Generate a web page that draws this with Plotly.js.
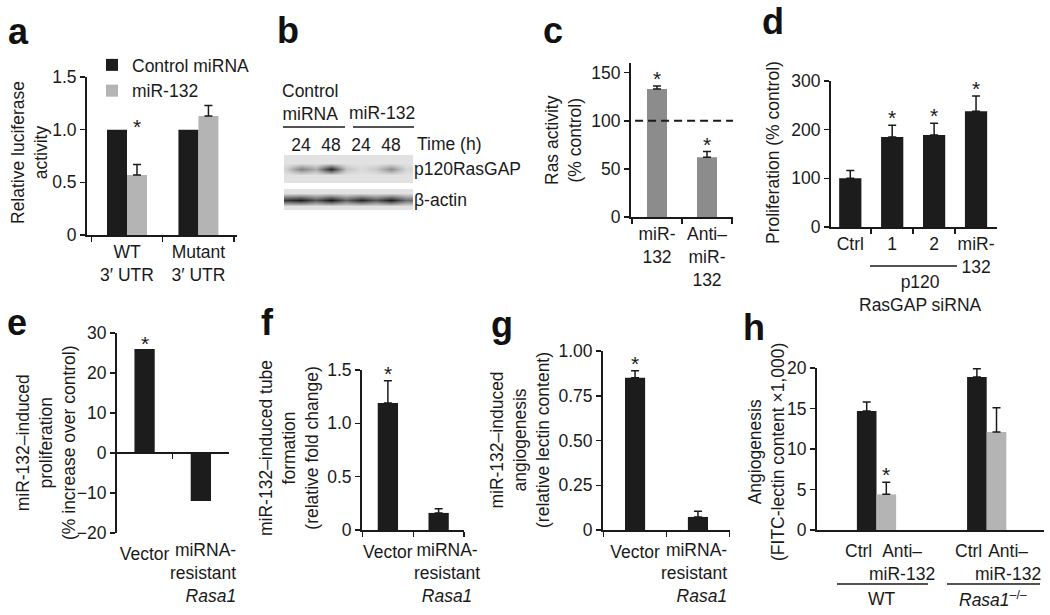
<!DOCTYPE html>
<html>
<head>
<meta charset="utf-8">
<script src="https://cdn.plot.ly/plotly-3.0.1.min.js"></script>
<style>
  html, body { margin: 0; padding: 0; background: #fff; }
  #myDiv { width: 1050px; height: 615px; }
</style>
</head>
<body>
<div id="myDiv"></div>
<script>
// ---- values ----

// a: luciferase reporter
var aGroups = ['WT<br>3′ UTR', 'Mutant<br>3′ UTR'];
var aControl = [1.0, 1.0];
var aMir132 = [0.57, 1.13];
var aMir132Err = [0.10, 0.10];
var aSig = [true, false];

// b: western blot, band darkness sampled every half lane (0 = background)
var bLanes = ['24', '48', '24', '48'];
var bP120Profile = [0.08, 0.45, 0.25, 0.88, 0.15, 0.04, 0.12, 0.4, 0.06];
var bActinProfile = [0.8, 0.92, 0.65, 0.95, 0.6, 0.88, 0.65, 0.93, 0.55];

// c: Ras activity
var cCats = ['miR-<br>132', 'Anti–<br>miR-<br>132'];
var cRas = [133, 62];
var cRasErr = [3, 6];
var cSig = [true, true];
var cBaseline = 100;

// d: proliferation
var dCats = ['Ctrl', '1', '2', 'miR-<br>132'];
var dProlif = [100, 185, 189, 238];
var dProlifErr = [16, 24, 24, 31];
var dSig = [false, true, true, true];

// e, f, g: rescue with miRNA-resistant Rasa1
var rescueCats = ['Vector', 'miRNA-<br>resistant<br><i>Rasa1</i>'];
var eProlif = [26, -12];
var eSig = [true, false];
var fTube = [1.19, 0.16];
var fTubeErr = [0.21, 0.04];
var fSig = [true, false];
var gAngio = [0.85, 0.073];
var gAngioErr = [0.04, 0.032];
var gSig = [true, false];

// h: in vivo angiogenesis
var hGroups = ['WT', 'Rasa1-/-'];
var hCtrl = [14.7, 18.9];
var hCtrlErr = [1.1, 1.0];
var hAnti = [4.4, 12.1];
var hAntiErr = [1.5, 3.0];
var hSig = [true, false];

// ---- layout helpers (pixel -> paper) ----
var W = 1050, H = 615;
function dx(a, b) { return [a / W, b / W]; }
function dy(top, bot) { return [1 - bot / H, 1 - top / H]; }
function px(x) { return x / W; }
function py(y) { return 1 - y / H; }

var BLACK = '#1c1c1c', LIGHT = '#b4b4b4', MID = '#8c8c8c', INK = '#1a1a1a';
var FS = 17.5;

function ax(extra) {
  return Object.assign({
    showline: true, linecolor: INK, linewidth: 2,
    ticks: 'outside', ticklen: 5, tickwidth: 1.5, tickcolor: INK,
    showgrid: false, zeroline: false, fixedrange: true, tickangle: 0,
    tickfont: {size: FS}
  }, extra);
}

function zeros(arr) { return arr.map(function () { return 0; }); }

function errY(arr) {
  return {type: 'data', symmetric: false, array: arr, arrayminus: zeros(arr),
          color: INK, thickness: 1.5, width: 4};
}

function bar(xa, ya, cats, vals, err, color, w, offset, name, legend) {
  var t = {type: 'bar', x: cats, y: vals, xaxis: xa, yaxis: ya, width: w,
           marker: {color: color, line: {width: 0}}, name: name || 'bars',
           showlegend: !!legend, hoverinfo: 'y'};
  if (offset !== undefined) t.offset = offset;
  if (err) t.error_y = errY(err);
  return t;
}

var annotations = [];
var shapes = [];

function stars(xa, ya, vals, err, sig, shift, yshift) {
  vals.forEach(function (v, i) {
    if (!sig[i]) return;
    annotations.push({xref: xa, yref: ya, x: i + (shift || 0), y: v + (err ? err[i] : 0),
      text: '*', showarrow: false, yanchor: 'bottom', yshift: yshift,
      font: {size: 21, color: INK}});
  });
}

function label(txt, x, y, opts) {
  annotations.push(Object.assign({xref: 'paper', yref: 'paper', x: px(x), y: py(y),
    text: txt, showarrow: false, xanchor: 'center', yanchor: 'middle',
    font: {size: FS, color: INK}}, opts || {}));
}

function ytitle(txt, x, y) {
  label(txt, x, y, {textangle: -90});
}

function panel(letter, x, y) {
  label('<b>' + letter + '</b>', x, y, {xanchor: 'left',
    font: {size: 36, color: '#111', family: 'Liberation Sans, Arial, sans-serif'}});
}

var data = [];

// a
var aw = 0.28;
data.push(bar('x', 'y', aGroups, aControl, null, BLACK, aw, -aw, 'Control miRNA', true));
data.push(bar('x', 'y', aGroups, aMir132, aMir132Err, LIGHT, aw, 0, 'miR-132', true));
stars('x', 'y', aMir132, aMir132Err, aSig, aw / 2, 24);

// b: blots as heatmaps
var colX = bP120Profile.map(function (_, i) { return (i - 1) / 2; });
function blotZ(profile) {
  var bg = zeros(profile);
  return [bg, bg, profile, bg, bg];
}
var blotScale = [[0, '#e2e2e2'], [1, '#0c0c0c']];
data.push({type: 'heatmap', x: colX, y: [0, 1, 2, 3, 4], z: blotZ(bP120Profile),
  xaxis: 'x2', yaxis: 'y2', zmin: 0, zmax: 1, zsmooth: 'best', colorscale: blotScale,
  showscale: false, hoverinfo: 'skip'});
data.push({type: 'heatmap', x: colX, y: [0, 1, 2, 3, 4], z: blotZ(bActinProfile),
  xaxis: 'x3', yaxis: 'y3', zmin: 0, zmax: 1, zsmooth: 'best', colorscale: blotScale,
  showscale: false, hoverinfo: 'skip'});

// c
data.push(bar('x4', 'y4', cCats, cRas, cRasErr, MID, 0.4));
stars('x4', 'y4', cRas, cRasErr, cSig, 0, -6);
shapes.push({type: 'line', xref: 'x4 domain', yref: 'y4', x0: 0.04, x1: 1,
  y0: cBaseline, y1: cBaseline, line: {color: INK, width: 2, dash: '8px,5px'}});

// d
data.push(bar('x5', 'y5', dCats, dProlif, dProlifErr, BLACK, 0.53));
stars('x5', 'y5', dProlif, dProlifErr, dSig, 0, -6);

// e
data.push(bar('x6', 'y6', rescueCats, eProlif, null, BLACK, 0.36));
stars('x6', 'y6', eProlif, null, eSig, 0, -8);

// f
data.push(bar('x7', 'y7', rescueCats, fTube, fTubeErr, BLACK, 0.4));
stars('x7', 'y7', fTube, fTubeErr, fSig, 0, -6);

// g
data.push(bar('x8', 'y8', rescueCats, gAngio, gAngioErr, BLACK, 0.32));
stars('x8', 'y8', gAngio, gAngioErr, gSig, 0, -6);

// h
var hw = 0.178;
data.push(bar('x9', 'y9', hGroups, hCtrl, hCtrlErr, BLACK, hw, -hw));
data.push(bar('x9', 'y9', hGroups, hAnti, hAntiErr, LIGHT, hw, 0));
stars('x9', 'y9', hAnti, hAntiErr, hSig, hw / 2, -6);

// ---- text labels ----
panel('a', 6, 31);
panel('b', 275, 30);
panel('c', 541, 30);
panel('d', 760, 21);
panel('e', 5, 322);
panel('f', 259, 322);
panel('g', 489, 324);
panel('h', 741, 327);

ytitle('Relative luciferase<br>activity', 29, 153);
ytitle('Ras activity<br>(% control)', 563, 140);
ytitle('Proliferation (% control)', 773, 153);
ytitle('miR-132–induced<br>proliferation<br>(% increase over control)', 46, 443);
ytitle('miR-132–induced tube<br>formation<br>(relative fold change)', 289, 448);
ytitle('miR-132–induced<br>angiogenesis<br>(relative lectin content)', 520, 440);
ytitle('Angiogenesis<br>(FITC-lectin content ×1,000)', 766, 452);

// second category label of the rescue panels (e, g right-aligned; f centred)
label(rescueCats[1], 238, 538, {xanchor: 'right', yanchor: 'top', align: 'right'});
label(rescueCats[1], 447, 538, {xanchor: 'center', yanchor: 'top', align: 'center'});
label(rescueCats[1], 729, 538, {xanchor: 'right', yanchor: 'top', align: 'right'});

// b labels
label('Control<br>miRNA', 310, 102);
label('miR-132', 382, 113);
shapes.push({type: 'line', xref: 'paper', yref: 'paper', x0: px(283), x1: px(345),
  y0: py(127), y1: py(127), line: {color: INK, width: 1.5}});
shapes.push({type: 'line', xref: 'paper', yref: 'paper', x0: px(353), x1: px(414),
  y0: py(127), y1: py(127), line: {color: INK, width: 1.5}});
label('Time (h)', 415, 144, {xanchor: 'left'});

// d group label
label('p120<br>RasGAP siRNA', 920, 293);
shapes.push({type: 'line', xref: 'paper', yref: 'paper', x0: px(870), x1: px(957),
  y0: py(266), y1: py(266), line: {color: INK, width: 1.5}});

// h category labels
label('Ctrl', 858, 551);
label('Anti–<br>miR-132', 902, 562);
label('Ctrl', 968, 551);
label('Anti–<br>miR-132', 1008, 562);
label('WT', 882, 599);
label('<i>Rasa1</i><sup>–/–</sup>', 993, 599);
shapes.push({type: 'line', xref: 'paper', yref: 'paper', x0: px(837), x1: px(928),
  y0: py(584), y1: py(584), line: {color: INK, width: 1.5}});
shapes.push({type: 'line', xref: 'paper', yref: 'paper', x0: px(947), x1: px(1040),
  y0: py(584), y1: py(584), line: {color: INK, width: 1.5}});

var blotX = {showline: false, ticks: '', showgrid: false, zeroline: false,
  fixedrange: true, range: [-0.567, 3.733]};
var blotY = {side: 'right', showline: false, ticks: '', showgrid: false, zeroline: false,
  fixedrange: true, tickvals: [2], tickfont: {size: FS}};
var rescueTicks = {tickmode: 'array', tickvals: rescueCats, ticktext: [rescueCats[0], ' ']};

var layout = {
  width: W, height: H,
  margin: {l: 0, r: 0, t: 0, b: 0},
  paper_bgcolor: '#fff', plot_bgcolor: 'rgba(0,0,0,0)',
  font: {family: 'Liberation Sans, Arial, Helvetica, sans-serif', size: FS, color: INK},
  barmode: 'overlay',
  showlegend: true,
  legend: {x: px(92), y: py(47), xanchor: 'left', yanchor: 'top',
    bgcolor: 'rgba(0,0,0,0)', font: {size: FS}, tracegroupgap: 0},

  // a
  xaxis: ax({domain: dx(87, 237), anchor: 'y', type: 'category', range: [-0.56, 1.54], tickson: 'boundaries'}),
  yaxis: ax({domain: dy(77, 235), anchor: 'x', range: [0, 1.5],
    tickvals: [0, 0.5, 1, 1.5], ticktext: ['0', '0.5', '1.0', '1.5']}),

  // b
  xaxis2: Object.assign({}, blotX, {domain: dx(284, 413), anchor: 'y2', side: 'top',
    tickvals: [0, 1, 2, 3], ticktext: bLanes, tickfont: {size: FS}}),
  yaxis2: Object.assign({}, blotY, {domain: dy(155, 183), anchor: 'x2', range: [-0.3, 4.3],
    ticktext: ['p120RasGAP']}),
  xaxis3: Object.assign({}, blotX, {domain: dx(284, 413), anchor: 'y3', showticklabels: false}),
  yaxis3: Object.assign({}, blotY, {domain: dy(189, 210), anchor: 'x3', range: [0.4, 3.6],
    ticktext: ['β-actin']}),

  // c
  xaxis4: ax({domain: dx(631, 733), anchor: 'y4', type: 'category', range: [-0.52, 1.52], tickson: 'boundaries'}),
  yaxis4: ax({domain: dy(63, 217), anchor: 'x4', range: [0, 160], tickvals: [0, 50, 100, 150]}),

  // d
  xaxis5: ax({domain: dx(831, 997), anchor: 'y5', type: 'category', range: [-0.46, 3.5], tickson: 'boundaries'}),
  yaxis5: ax({domain: dy(81, 227), anchor: 'x5', range: [0, 300], dtick: 100}),

  // e (x axis sits on zero)
  xaxis6: ax(Object.assign({domain: dx(117, 229), anchor: 'free', position: py(453), type: 'category',
    range: [-0.49, 1.5], tickson: 'boundaries', ticklabelstandoff: 85}, rescueTicks)),
  yaxis6: ax({domain: dy(333, 533), anchor: 'x6', range: [-20, 30], dtick: 10}),

  // f
  xaxis7: ax(Object.assign({domain: dx(362, 464), anchor: 'y7', type: 'category', range: [-0.51, 1.5],
    tickson: 'boundaries', ticklabelstandoff: 5}, rescueTicks)),
  yaxis7: ax({domain: dy(370, 530), anchor: 'x7', range: [0, 1.5],
    tickvals: [0, 0.5, 1, 1.5], ticktext: ['0', '0.5', '1.0', '1.5']}),

  // g
  xaxis8: ax(Object.assign({domain: dx(603, 730), anchor: 'y8', type: 'category', range: [-0.51, 1.51],
    tickson: 'boundaries', ticklabelstandoff: 5}, rescueTicks)),
  yaxis8: ax({domain: dy(351, 530), anchor: 'x8', range: [0, 1],
    tickvals: [0, 0.25, 0.5, 0.75, 1], ticktext: ['0', '0.25', '0.50', '0.75', '1.00']}),

  // h
  xaxis9: ax({domain: dx(817, 1044), anchor: 'y9', type: 'category', range: [-0.54, 1.52],
    ticks: '', showticklabels: false}),
  yaxis9: ax({domain: dy(368, 530), anchor: 'x9', range: [0, 20], dtick: 5}),

  annotations: annotations,
  shapes: shapes
};

Plotly.newPlot('myDiv', data, layout, {staticPlot: true, displayModeBar: false});
</script>
</body>
</html>
